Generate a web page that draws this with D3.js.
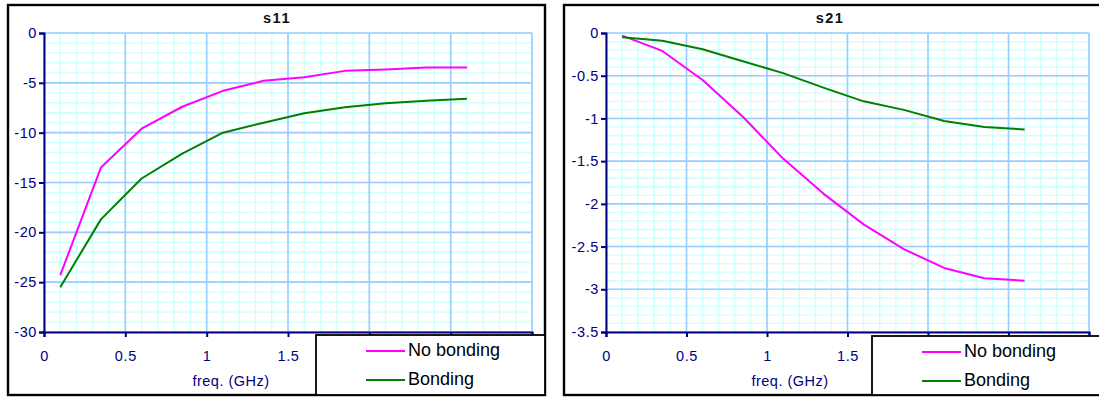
<!DOCTYPE html>
<html>
<head>
<meta charset="utf-8">
<script src="https://cdn.jsdelivr.net/npm/d3@7"></script>
<style>
    body { margin: 0; background: #fff; }
    text { font-family: "Liberation Sans", Arial, sans-serif; }
</style>
</head>
<body>
<svg id="chart" width="1099" height="398" viewBox="0 0 1099 398"></svg>
<script>
// frequency points (GHz)
let freq = [0.1, 0.35, 0.6, 0.85, 1.1, 1.35, 1.6, 1.85, 2.1, 2.35, 2.6]

// s11 (dB)
let s11NoBonding = [-24.3, -13.5, -9.6, -7.4, -5.8, -4.8, -4.45, -3.8, -3.65, -3.45, -3.45]
let s11Bonding = [-25.5, -18.7, -14.6, -12.1, -10.0, -9.0, -8.05, -7.45, -7.05, -6.8, -6.6]

// s21 (dB)
let s21NoBonding = [-0.03, -0.21, -0.55, -0.98, -1.47, -1.88, -2.24, -2.53, -2.75, -2.87, -2.9]
let s21Bonding = [-0.05, -0.09, -0.19, -0.33, -0.47, -0.64, -0.8, -0.9, -1.03, -1.1, -1.13]

let seriesNames = ["No bonding", "Bonding"]
let seriesColors = ["#ff00ff", "#008000"]

let xTicks = [0, 0.5, 1, 1.5, 2, 2.5, 3]
let s11Ticks = [0, -5, -10, -15, -20, -25, -30]
let s21Ticks = [0, -0.5, -1, -1.5, -2, -2.5, -3, -3.5]

let svg = d3.select("#chart")

function drawChart(opt)
{
    let g = svg.append("g")

    // outer frame
    g.append("rect")
        .attr("x", opt.frame[0]).attr("y", opt.frame[1])
        .attr("width", opt.frame[2]).attr("height", opt.frame[3])
        .attr("fill", "#fff")
        .attr("stroke", "#000")
        .attr("stroke-width", 2.4)

    let x = d3.scaleLinear().domain([0, 3]).range([opt.plot[0], opt.plot[2]])
    let y = d3.scaleLinear().domain([opt.yTicks[opt.yTicks.length - 1], 0]).range([opt.plot[3], opt.plot[1]])

    //minor grid first, then major on top
    let grid = g.append("g")
    let yMin = opt.yTicks[opt.yTicks.length - 1]
    let xMinor = d3.range(0, 31).map(d => d / 10)
    let yMinor = d3.range(0, Math.round(-yMin / opt.yMinorStep) + 1).map(d => -d * opt.yMinorStep)

    grid.selectAll(".vminor").data(xMinor).enter().append("line")
        .attr("x1", d => x(d)).attr("x2", d => x(d))
        .attr("y1", opt.plot[1]).attr("y2", opt.plot[3])
        .attr("stroke", "#ccffff").attr("stroke-width", 1.3)
    grid.selectAll(".hminor").data(yMinor).enter().append("line")
        .attr("x1", opt.plot[0]).attr("x2", opt.plot[2])
        .attr("y1", d => y(d)).attr("y2", d => y(d))
        .attr("stroke", "#ccffff").attr("stroke-width", 1.3)
    grid.selectAll(".vmajor").data(xTicks).enter().append("line")
        .attr("x1", d => x(d)).attr("x2", d => x(d))
        .attr("y1", opt.plot[1]).attr("y2", opt.plot[3])
        .attr("stroke", "#99ccff").attr("stroke-width", 1.6)
    grid.selectAll(".hmajor").data(opt.yTicks).enter().append("line")
        .attr("x1", opt.plot[0]).attr("x2", opt.plot[2])
        .attr("y1", d => y(d)).attr("y2", d => y(d))
        .attr("stroke", "#99ccff").attr("stroke-width", 1.6)

    // axes
    // labels that sit under the legend box are not visible in the original
    let xAxis = g.append("g")
        .attr("transform", `translate(0,${opt.plot[3]})`)
        .call(d3.axisBottom(x).tickValues(xTicks).tickSize(5).tickPadding(14)
            .tickFormat(d => x(d) + 8 < opt.legend[0] ? d.toString() : ""))
    let yAxis = g.append("g")
        .attr("transform", `translate(${opt.plot[0]},0)`)
        .call(d3.axisLeft(y).tickValues(opt.yTicks).tickSize(5).tickPadding(2)
            .tickFormat(d => d.toString()))

    for (let a of [xAxis, yAxis]) {
        a.select(".domain").attr("stroke", "#000080").attr("stroke-width", 2)
        a.selectAll(".tick line").attr("stroke", "#000080").attr("stroke-width", 2)
        a.selectAll(".tick text")
            .attr("fill", "#000080")
            .style("font-size", "14.5px")
            .style("font-family", "'Liberation Sans', Arial, sans-serif")
            .attr("letter-spacing", 0.6)
    }

    // series
    let line = d3.line()
        .x((d, i) => x(freq[i]))
        .y(d => y(d))
    opt.series.forEach(function (s, i) {
        g.append("path")
            .datum(s)
            .attr("fill", "none")
            .attr("stroke", seriesColors[i])
            .attr("stroke-width", 2)
            .attr("stroke-linejoin", "round")
            .attr("d", line)
    })

    // title
    g.append("text")
        .attr("x", opt.titleX).attr("y", 23)
        .attr("text-anchor", "middle")
        .attr("font-weight", "bold")
        .attr("font-size", 14.5)
        .attr("letter-spacing", 1.5)
        .attr("fill", "#111")
        .text(opt.title)

    g.append("text")
        .attr("x", opt.axisTitleX).attr("y", 386)
        .attr("text-anchor", "middle")
        .attr("font-size", 14.5)
        .attr("letter-spacing", 0.5)
        .attr("fill", "#000080")
        .text("freq. (GHz)")

    // legend
    let lg = g.append("g")
    lg.append("rect")
        .attr("x", opt.legend[0]).attr("y", opt.legend[1])
        .attr("width", opt.legend[2]).attr("height", opt.legend[3])
        .attr("fill", "#fff")
        .attr("stroke", "#000")
        .attr("stroke-width", 1.8)
    seriesNames.forEach(function (name, i) {
        let ly = opt.legend[1] + 16 + i * 29
        lg.append("line")
            .attr("x1", opt.legend[0] + 50).attr("x2", opt.legend[0] + 89)
            .attr("y1", ly).attr("y2", ly)
            .attr("stroke", seriesColors[i])
            .attr("stroke-width", 2)
        lg.append("text")
            .attr("x", opt.legend[0] + 92).attr("y", ly + 5)
            .attr("font-size", 18)
            .attr("fill", "#000")
            .text(name)
    })
}

drawChart({
    title: "s11",
    frame: [8, 5, 537, 390],
    plot: [44, 33, 532, 332],
    legend: [316, 335, 229, 60],
    titleX: 277,
    axisTitleX: 231,
    yTicks: s11Ticks,
    yMinorStep: 1,
    series: [s11NoBonding, s11Bonding]
})

drawChart({
    title: "s21",
    frame: [564, 5, 540, 390],
    plot: [606, 33, 1089, 332],
    legend: [872, 336, 232, 59],
    titleX: 830,
    axisTitleX: 790,
    yTicks: s21Ticks,
    yMinorStep: 0.1,
    series: [s21NoBonding, s21Bonding]
})
</script>
</body>
</html>
